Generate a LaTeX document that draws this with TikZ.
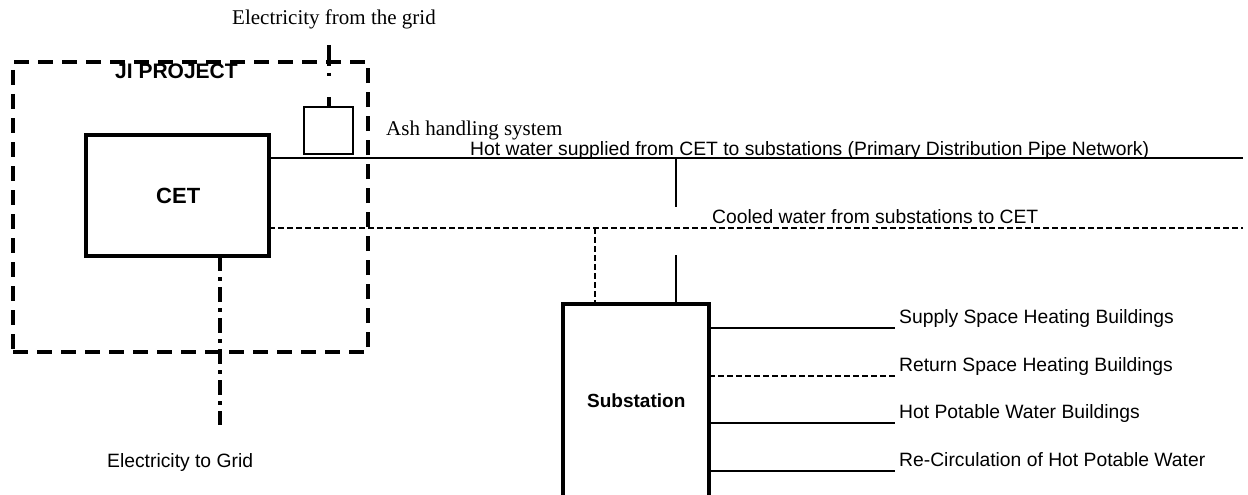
\documentclass[tikz,border=0pt]{standalone}
\usepackage{fontspec}
\setmainfont{Liberation Serif}
\newfontfamily\arialfont{Liberation Sans}
\begin{document}
\begin{tikzpicture}[x=1pt,y=-1pt,
  box/.style={draw, line width=3.5pt, inner sep=0pt, outer sep=0pt},
  smallbox/.style={draw, line width=2.5pt, inner sep=0pt, outer sep=0pt},
  jibox/.style={draw, line width=4.5pt, dash pattern=on 15pt off 9pt, inner sep=0pt, outer sep=0pt},
  pipe/.style={line width=2.5pt},
  thinpipe/.style={line width=2pt},
  ret/.style={line width=2pt, dash pattern=on 5.5pt off 3.5pt},
  elec/.style={line width=3.5pt, dash pattern=on 15pt off 6pt on 3.5pt off 6.5pt},
  electop/.style={line width=3.5pt, dash pattern=on 21pt off 7pt on 3.5pt off 20.5pt on 15pt},
  lbl/.style={font=\arialfont\fontsize{19.3}{22}\selectfont, inner sep=0pt, anchor=base west},
  blbl/.style={font=\arialfont\bfseries\fontsize{21}{24}\selectfont, inner sep=0pt, anchor=base west},
  tlbl/.style={font=\fontsize{21}{24}\selectfont, inner sep=0pt, anchor=base west}]
\useasboundingbox (0,0) rectangle (1248,495);

% boxes
\node[jibox, minimum width=355pt, minimum height=290pt] (ji) at (190.5,207) {};
\node[box, minimum width=183pt, minimum height=121pt] (cet) at (177.5,195.5) {};
\node[smallbox, minimum width=49pt, minimum height=47pt] (ash) at (328.5,130.5) {};
\node[box, minimum width=146pt, minimum height=220pt] (sub) at (636,414) {};

% labels
\node[blbl] (jilbl) at (115,79) {JI PROJECT};
\node[blbl, font=\arialfont\bfseries\fontsize{22}{26}\selectfont] (cetlbl) at (156,203) {CET};
\node[blbl, font=\arialfont\bfseries\fontsize{19}{22}\selectfont] (sublbl) at (587,407) {Substation};
\node[tlbl] (gridinlbl) at (232,25) {Electricity from the grid};
\node[tlbl] (ashlbl) at (386,135) {Ash handling system};
\node[lbl] (hotlbl) at (470,155) {Hot water supplied from CET to substations (Primary Distribution Pipe Network)};
\node[lbl] (coollbl) at (712,223) {Cooled water from substations to CET};
\node[lbl] (gridoutlbl) at (107,467) {Electricity to Grid};
\node[lbl] (l1) at (899,323) {Supply Space Heating Buildings};
\node[lbl] (l2) at (899,371) {Return Space Heating Buildings};
\node[lbl] (l3) at (899,418) {Hot Potable Water Buildings};
\node[lbl] (l4) at (899,466) {Re-Circulation of Hot Potable Water};

% coordinates
\coordinate (hotend) at (1243,158);
\coordinate (coolend) at (1243,228);
\coordinate (hotdrop) at (676,207);
\coordinate (hotrise) at (676,255);
\coordinate (cooltap) at (595,228);
\coordinate (gridout) at (220,425);
\coordinate (gridin) at (329,45);
\coordinate (s1) at (895,328);
\coordinate (s2) at (895,376);
\coordinate (s3) at (895,423);
\coordinate (s4) at (895,471);

% primary network
\draw[pipe] (cet.east |- hotend) -- (hotend);
\draw[ret] (cet.east |- coolend) -- (coolend);
\draw[thinpipe] (hotdrop |- hotend) -- (hotdrop);
\draw[thinpipe] (hotrise) -- (hotrise |- sub.north);
\draw[ret] (cooltap) -- (cooltap |- sub.north);

% electricity
\draw[elec] (gridout |- cet.south) -- (gridout);
\draw[electop] (gridin) -- (gridin |- ash.north);

% secondary network
\draw[thinpipe] (sub.east |- s1) -- (s1);
\draw[ret] (sub.east |- s2) -- (s2);
\draw[thinpipe] (sub.east |- s3) -- (s3);
\draw[thinpipe] (sub.east |- s4) -- (s4);
\end{tikzpicture}
\end{document}
